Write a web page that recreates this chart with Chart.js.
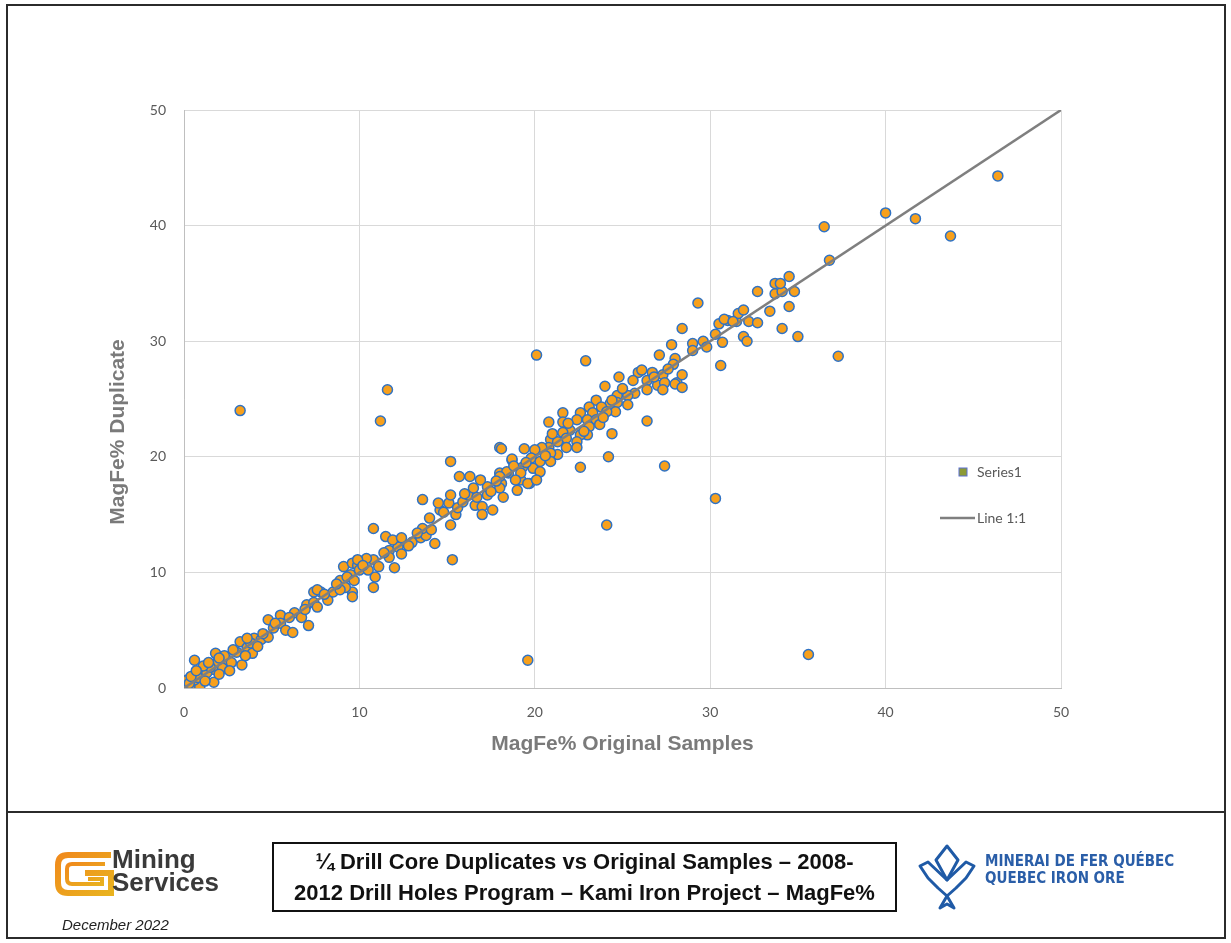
<!DOCTYPE html>
<html>
<head>
<meta charset="utf-8">
<script src="https://cdn.jsdelivr.net/npm/chart.js@4.4.0/dist/chart.umd.min.js"></script>
<style>
  body { margin: 0; background: #fff; width: 1231px; height: 943px; position: relative; overflow: hidden; font-family: "Liberation Sans", Arial, sans-serif; }
  #chartWrap { position: absolute; left: 0; top: 0; width: 1231px; height: 810px; }
  #frame { position: absolute; left: 6px; top: 4px; width: 1220px; height: 935px; border: 2px solid #2b2b2b; box-sizing: border-box; pointer-events: none; }
  #sep { position: absolute; left: 6px; top: 811px; width: 1220px; height: 2px; background: #2b2b2b; }
  #titleBox { position: absolute; left: 272px; top: 842px; width: 625px; height: 70px; border: 2px solid #111; box-sizing: border-box; text-align: center; font-weight: bold; font-size: 22px; line-height: 31px; padding-top: 2px; color: #111; white-space: nowrap; }
  #msLogo { position: absolute; left: 53px; top: 850px; }
  #msText { position: absolute; left: 112px; top: 848px; font-weight: bold; font-size: 26px; line-height: 23px; color: #3a3a3a; }
  #date { position: absolute; left: 62px; top: 916px; font-style: italic; font-size: 15px; color: #222; }
  #qioLogo { position: absolute; left: 916px; top: 840px; }
  #qioText { position: absolute; left: 985px; top: 853px; font-family: "DejaVu Sans Condensed", "DejaVu Sans", sans-serif; font-stretch: condensed; font-weight: bold; font-size: 15px; line-height: 17px; color: #2a5ea8; }
</style>
</head>
<body>
<div id="chartWrap"><canvas id="scatter"></canvas></div>
<div id="frame"></div>
<div id="sep"></div>

<svg id="msLogo" width="62" height="48" viewBox="0 0 62 48">
  <defs>
    <linearGradient id="gold" x1="0" y1="0" x2="1" y2="1">
      <stop offset="0" stop-color="#f08a1c"/>
      <stop offset="1" stop-color="#e9b21f"/>
    </linearGradient>
  </defs>
  <path d="M58 5 H15 Q5 5 5 15 V33 Q5 43 15 43 H58 V23 H32" fill="none" stroke="url(#gold)" stroke-width="6"/>
  <path d="M52 14 H19 Q14 14 14 19 V29 Q14 34 19 34 H49 V29 H35" fill="none" stroke="url(#gold)" stroke-width="4"/>
</svg>
<div id="msText">Mining<br>Services</div>
<div id="date">December 2022</div>

<div id="titleBox">¼ Drill Core Duplicates vs Original Samples – 2008-<br>2012 Drill Holes Program – Kami Iron Project – MagFe%</div>

<svg id="qioLogo" width="62" height="74" viewBox="0 0 62 74">
  <g fill="none" stroke="#1f5aa6" stroke-width="3" stroke-linejoin="round">
    <path d="M31 6 L42 20 L31 40 L20 20 Z"/>
    <path d="M31 40 L50 22 L58 26 L50 38 L40 48 L31 56 L22 48 L12 38 L4 26 L12 22 Z"/>
    <path d="M31 56 L38 68 L31 64 L24 68 Z"/>
  </g>
</svg>
<div id="qioText">MINERAI DE FER QUÉBEC<br>QUEBEC IRON ORE</div>

<script>
// MagFe% - original sample vs 1/4 core duplicate
var originalSamples = [
  0.1, 0.2, 0.5, 0.9, 1.0, 0.6, 1.7, 1.7, 1.3, 0.6, 1.8, 1.9, 2.5, 2.2, 3.0, 3.3, 3.2, 3.6, 3.9, 4.0,
  4.4, 4.8, 4.8, 5.1, 5.5, 5.5, 5.8, 6.2, 6.3, 6.7, 7.1, 7.0, 7.4, 7.6, 8.2, 7.4, 7.8, 8.5, 9.6, 9.6,
  9.1, 9.6, 9.9, 9.5, 8.9, 7.6, 9.2, 8.9, 0.3, 0.8, 1.2, 1.5, 2.0, 2.3, 2.7, 2.8, 3.5, 1.1, 0.4, 2.6,
  3.8, 4.2,
  10.8, 11.1, 10.4, 9.9, 9.3, 10.0, 10.5, 9.7, 10.9, 10.8, 12.0, 11.7, 12.2, 11.7, 12.4, 11.5, 11.9, 12.4, 13.0, 13.5,
  13.8, 14.3, 10.8, 13.6, 14.1, 14.0, 15.2, 15.5, 14.6, 14.5, 15.1, 15.6, 13.6, 15.2, 15.9, 16.2, 16.6, 16.7, 17.3, 17.0,
  17.6, 17.0, 18.2, 17.3, 15.7, 16.3, 16.9, 18.0, 18.5, 19.2, 18.1, 19.0, 19.7, 15.3, 15.2, 11.2, 11.6, 18.0, 18.7,
  24.8, 24.0, 25.9, 26.7, 27.3, 26.4, 27.0, 27.4, 28.1, 27.3, 26.4, 25.7, 25.3, 24.7, 24.3, 23.5, 23.1, 23.8, 24.7, 25.3,
  24.6, 24.1, 23.3, 22.6, 21.6, 23.0, 23.5, 22.4, 20.8, 21.6, 26.4, 23.1, 23.7, 22.0, 21.6, 24.4, 23.0, 22.6, 20.9, 21.8,
  22.4, 21.3, 20.8, 20.4, 19.4, 20.0, 21.8, 22.4, 18.1, 21.3, 20.9, 19.8, 18.7, 24.2, 20.3, 20.9, 19.3, 19.9, 18.4, 22.6,
  27.4, 19.2, 20.3, 18.9, 19.6, 20.1, 18.0, 18.0, 20.1, 22.9, 19.6, 24.1,
  28.4, 27.1, 28.0, 27.9, 28.0, 28.4, 28.4, 27.8, 29.0, 29.6, 29.8, 29.0, 30.6, 30.3, 30.7, 31.9, 32.1, 30.5, 31.0, 31.5,
  32.2, 32.7, 31.6, 31.9, 33.4, 34.5, 29.3, 32.7, 33.7, 34.1, 34.8, 33.7, 34.0, 34.5, 34.1, 35.0, 37.3, 30.3, 30.8, 31.3,
  36.5, 36.8, 40.0, 41.7, 43.7, 46.4, 35.6, 3.2,
  21.0, 21.9, 22.8, 23.9, 24.4, 25.0, 25.6, 26.1, 26.8, 27.6, 19.5, 20.6, 18.8, 17.8, 17.5, 16.5, 16.0, 14.8, 13.3, 12.8,
  11.4, 10.2, 8.7, 8.0, 6.9, 6.0, 5.2, 4.5, 3.6, 2.0, 1.4, 0.7
];
var duplicateSamples = [
  0.1, 0.7, 0.3, 0.1, 1.1, 0.7, 0.5, 1.6, 1.3, 2.4, 3.0, 2.2, 2.4, 1.7, 3.1, 2.0, 4.0, 3.5, 3.0, 4.3,
  4.2, 4.4, 5.9, 5.2, 6.3, 5.6, 5.0, 4.8, 6.5, 6.1, 5.4, 7.2, 7.4, 7.0, 7.6, 8.3, 8.3, 8.3, 8.3, 7.9,
  10.5, 10.8, 10.6, 9.8, 9.3, 8.5, 8.7, 8.5, 0.4, 0.9, 0.6, 1.8, 1.2, 2.8, 2.2, 3.3, 2.8, 1.9, 1.0, 1.5,
  3.9, 3.6,
  11.1, 10.5, 11.2, 11.1, 9.6, 10.2, 10.2, 9.3, 9.6, 8.7, 10.4, 11.9, 12.2, 11.3, 11.6, 13.1, 12.8, 13.0, 12.6, 13.0,
  13.2, 12.5, 13.8, 13.8, 13.7, 14.7, 14.1, 15.0, 15.4, 16.0, 16.0, 15.6, 16.3, 16.7, 16.1, 16.7, 15.8, 16.5, 16.7, 15.7,
  15.4, 15.0, 16.5, 17.4, 18.3, 18.3, 18.0, 18.6, 18.6, 18.0, 17.7, 17.1, 17.7, 11.1, 19.6, 23.1, 25.8, 20.8, 19.7,
  26.9, 26.1, 27.3, 27.3, 27.1, 26.6, 26.2, 26.4, 26.4, 25.8, 25.8, 25.5, 25.3, 25.3, 24.6, 24.9, 24.3, 24.3, 24.7, 24.5,
  23.9, 23.9, 23.8, 23.8, 23.8, 23.2, 23.2, 23.2, 23.0, 23.0, 23.1, 22.6, 22.8, 22.3, 22.1, 22.0, 21.9, 21.9, 21.5, 21.6,
  21.3, 21.3, 20.8, 20.8, 20.7, 20.6, 20.8, 20.8, 20.7, 20.2, 20.3, 19.9, 19.8, 20.0, 19.6, 19.6, 19.1, 19.0, 18.7, 19.1,
  19.2, 18.6, 18.7, 18.0, 17.7, 18.0, 18.3, 17.3, 28.8, 28.3, 2.4, 14.1,
  27.1, 28.8, 28.5, 28.0, 26.3, 26.0, 31.1, 29.7, 29.8, 30.0, 29.5, 29.2, 27.9, 30.6, 29.9, 30.4, 30.0, 31.5, 31.8, 31.7,
  31.7, 31.6, 32.4, 32.7, 32.6, 33.0, 33.3, 34.3, 34.1, 34.3, 34.3, 35.0, 35.0, 35.6, 31.1, 30.4, 28.7, 16.4, 31.9, 31.7,
  39.9, 37.0, 41.1, 40.6, 39.1, 44.3, 2.9, 24.0,
  22.0, 22.9, 22.2, 23.4, 24.9, 25.9, 26.6, 27.5, 26.9, 27.6, 19.5, 20.1, 19.2, 17.9, 17.0, 17.3, 16.8, 15.2, 13.4, 12.3,
  11.7, 10.6, 9.0, 8.1, 6.8, 6.1, 5.6, 4.7, 4.3, 2.6, 2.2, 1.5
];
var lineX = [0, 50];
var lineY = [0, 50];
var axisMin = 0;
var axisMax = 50;
var axisStep = 10;

var points = originalSamples.map(function (v, i) { return { x: v, y: duplicateSamples[i] }; });
var linePoints = lineX.map(function (v, i) { return { x: v, y: lineY[i] }; });

var labelFont = { family: 'Lato, "Open Sans", sans-serif', size: 14 };
var titleFont = { family: '"Liberation Sans", Arial, sans-serif', size: 21, weight: 'bold' };

// Excel-style legend inside the plot area, plus the y title (sits a bit low in the original)
var sideLegend = {
  id: 'sideLegend',
  afterDraw: function (chart) {
    var c = chart.ctx;
    c.save();
    c.fillStyle = '#8c9a35';
    c.strokeStyle = '#5a6fd0';
    c.lineWidth = 1;
    c.fillRect(959, 468, 8, 8);
    c.strokeRect(959, 468, 8, 8);
    c.strokeStyle = '#7f7f7f';
    c.lineWidth = 2.5;
    c.beginPath();
    c.moveTo(940, 518);
    c.lineTo(975, 518);
    c.stroke();
    c.fillStyle = '#595959';
    c.font = '14px Lato, "Open Sans", sans-serif';
    c.textBaseline = 'middle';
    c.fillText('Series1', 977, 472);
    c.fillText('Line 1:1', 977, 518);

    c.translate(118, 432);
    c.rotate(-Math.PI / 2);
    c.textAlign = 'center';
    c.fillStyle = '#7a7a7a';
    c.font = 'bold 21px "Liberation Sans", Arial, sans-serif';
    c.fillText('MagFe% Duplicate', 0, 0);
    c.restore();
  }
};

var ctx = document.getElementById('scatter');
var scatterChart = new Chart(ctx, {
  type: 'scatter',
  data: {
    datasets: [{
      label: 'Series1',
      data: points,
      backgroundColor: '#f7a01c',
      borderColor: '#2f72c4',
      borderWidth: 1.5,
      pointRadius: 5,
      order: 2
    }, {
      label: 'Line 1:1',
      data: linePoints,
      showLine: true,
      borderColor: '#7f7f7f',
      borderWidth: 2.5,
      pointRadius: 0,
      fill: false,
      order: 1
    }]
  },
  options: {
    responsive: true,
    maintainAspectRatio: false,
    animation: false,
    layout: { padding: { left: 108, top: 110, right: 170, bottom: 53 } },
    plugins: {
      legend: { display: false },
      tooltip: { enabled: false }
    },
    scales: {
      x: {
        type: 'linear',
        min: axisMin,
        max: axisMax,
        ticks: { stepSize: axisStep, padding: 16, color: '#595959', font: labelFont },
        grid: { color: '#d9d9d9', drawTicks: false },
        border: { color: '#bfbfbf' },
        title: { display: true, text: 'MagFe% Original Samples', color: '#7a7a7a', font: titleFont, padding: 0 },
        afterFit: function (scale) { scale.height = 69; }
      },
      y: {
        type: 'linear',
        min: axisMin,
        max: axisMax,
        ticks: { stepSize: axisStep, padding: 18, color: '#595959', font: labelFont },
        grid: { color: '#d9d9d9', drawTicks: false },
        border: { color: '#bfbfbf' },
        title: { display: false },
        afterFit: function (scale) { scale.width = 76; }
      }
    }
  },
  plugins: [sideLegend]
});
</script>
</body>
</html>
